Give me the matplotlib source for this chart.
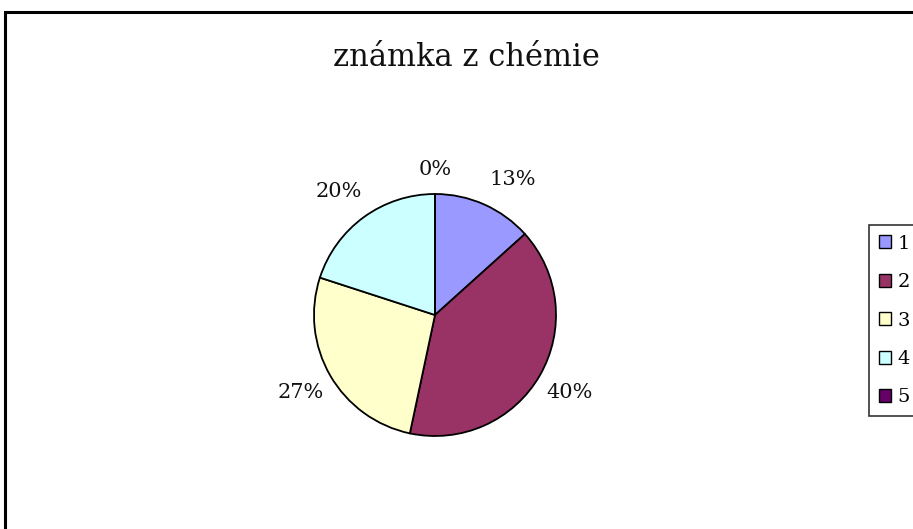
import numpy as np
import matplotlib.pyplot as plt
from matplotlib.patches import Rectangle, Patch

# data
grades = ['1', '2', '3', '4', '5']
counts = [2, 6, 4, 3, 0]
colors = ['#9999FF', '#993366', '#FFFFCC', '#CCFFFF', '#660066']
# label placement (radius units, angle nudges in degrees)
label_dist = [1.29, 1.28, 1.28, 1.29, 1.20]
label_shift = [-6, 0, 0, 2, 0]

plt.rcParams['font.family'] = ['DejaVu Serif']

W, H = 913, 529
fig = plt.figure(figsize=(W / 100, H / 100), dpi=100)

# outer chart frame (runs off the right and bottom edge)
fig.patches.append(Rectangle((5 / W, -0.2), 1.2, 1.2 - 12 / H,
                             transform=fig.transFigure, fill=False,
                             edgecolor='black', linewidth=2.2))

cx, cy, r = 435, 315, 121
ax = fig.add_axes([(cx - r) / W, (H - cy - r) / H, 2 * r / W, 2 * r / H])
wedges, texts, autotexts = ax.pie(counts, colors=colors, startangle=90, counterclock=False,
                                  autopct='%1.0f%%', pctdistance=1.28,
                                  wedgeprops=dict(edgecolor='black', linewidth=1.3),
                                  textprops=dict(fontsize=15, color='#111111'))
for w, t, d, s in zip(wedges, autotexts, label_dist, label_shift):
    ang = np.deg2rad((w.theta1 + w.theta2) / 2 + s)
    t.set_position((d * np.cos(ang), d * np.sin(ang)))
ax.set_xlim(-1, 1)
ax.set_ylim(-1, 1)
ax.set_aspect('equal')
ax.axis('off')

fig.text(466 / W, 1 - 57 / H, 'známka z chémie', ha='center', va='center',
         fontsize=22, color='#111111')

handles = [Patch(facecolor=c, edgecolor='black', linewidth=1.0) for c in colors]
leg = fig.legend(handles, grades, loc='upper left', bbox_to_anchor=(869 / W, 1 - 225 / H),
                 frameon=True, fancybox=False, fontsize=14, handlelength=0.65,
                 handleheight=0.65, handletextpad=0.3, labelspacing=1.05,
                 borderpad=0.5, borderaxespad=0)
leg.get_frame().set_edgecolor('black')
leg.get_frame().set_linewidth(1.2)

fig.savefig('out.png', dpi=100)
